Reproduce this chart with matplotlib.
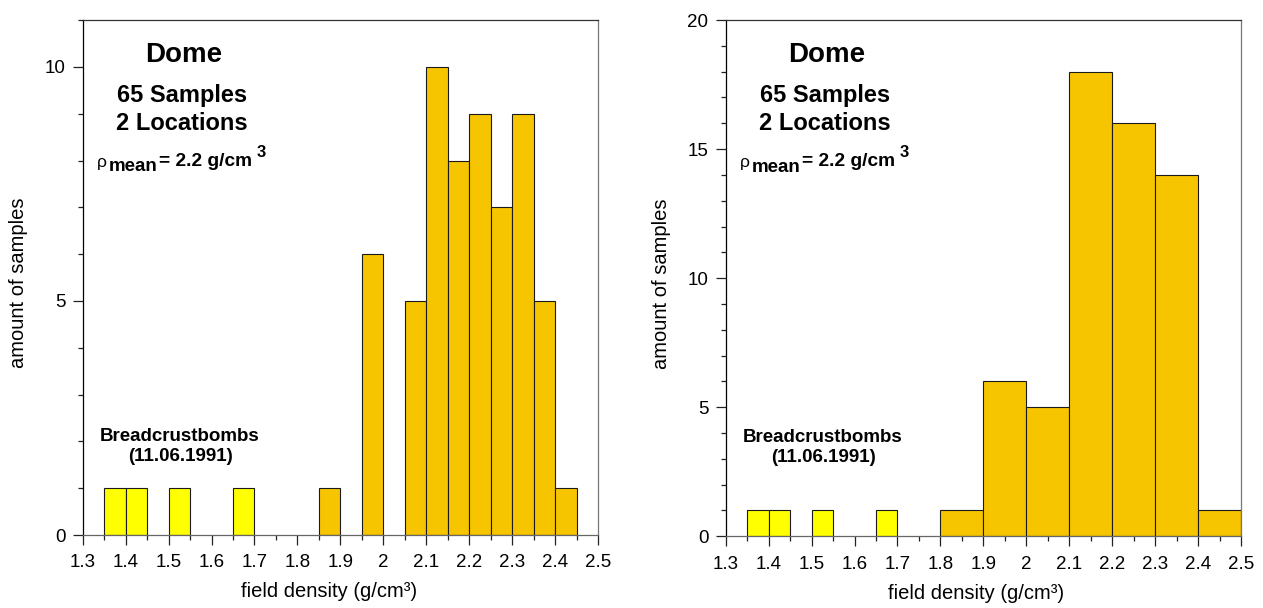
import numpy as np
import matplotlib.pyplot as plt
from matplotlib.ticker import MultipleLocator, FuncFormatter
from matplotlib.transforms import offset_copy

plt.rcParams['font.family'] = ['Liberation Sans', 'DejaVu Sans']

# breadcrust bombs (same in both panels), bin width 0.05
bomb_left = [1.35, 1.40, 1.50, 1.65]
bomb_count = [1, 1, 1, 1]

# dome samples, fine bins (0.05)
fine_left = [1.85, 1.95, 2.05, 2.10, 2.15, 2.20, 2.25, 2.30, 2.35, 2.40]
fine_count = [1, 6, 5, 10, 8, 9, 7, 9, 5, 1]

# dome samples, coarse bins (0.1)
coarse_left = [1.8, 1.9, 2.0, 2.1, 2.2, 2.3, 2.4]
coarse_count = [1, 6, 5, 18, 16, 14, 1]

x_ticks = np.round(np.arange(1.3, 2.51, 0.1), 2)

orange = '#F6C500'
yellow = '#FFFF00'
edge = '#1a1a1a'

fig = plt.figure(figsize=(12.63, 6.08), dpi=100)
ax1 = fig.add_axes([0.0655, 0.120, 0.408, 0.847])
ax2 = fig.add_axes([0.5746, 0.118, 0.408, 0.849])


def style(ax, ymax, ymajor, xlab_x):
    ax.set_xlim(1.3, 2.5)
    ax.set_ylim(0, ymax)
    ax.set_xticks(x_ticks)
    ax.xaxis.set_major_formatter(FuncFormatter(lambda v, p: '%g' % round(v, 2)))
    ax.xaxis.set_minor_locator(MultipleLocator(0.05))
    ax.yaxis.set_major_locator(MultipleLocator(ymajor))
    ax.yaxis.set_minor_locator(MultipleLocator(1))
    ax.tick_params(which='both', direction='out', labelsize=13.5, color='#222222')
    ax.tick_params(which='major', length=7.5, width=0.9)
    ax.tick_params(which='minor', length=3.8, width=0.9)
    ax.tick_params(axis='x', pad=6.5)
    ax.tick_params(axis='y', pad=5)
    ax.spines['left'].set_color('black')
    ax.spines['top'].set_color('#333333')
    ax.spines['right'].set_color('#777777')
    ax.spines['bottom'].set_color('#666666')
    for s in ax.spines.values():
        s.set_linewidth(0.9)
    ax.set_ylabel('amount of samples', fontsize=14.5)
    ax.set_xlabel('field density (g/cm³)', fontsize=14.5, va='top')
    ax.xaxis.set_label_coords(xlab_x, -0.092)
    ax.yaxis.set_label_coords(-0.107, 0.49)


def texts(ax):
    kw = dict(transform=ax.transAxes, ha='center', fontweight='bold')
    ax.text(0.195, 0.932, 'Dome', fontsize=20, va='center', **kw)
    ax.text(0.193, 0.853, '65 Samples', fontsize=17, va='center', **kw)
    ax.text(0.193, 0.800, '2 Locations', fontsize=17, va='center', **kw)
    ax.text(0.189, 0.192, 'Breadcrustbombs', fontsize=13.5, va='center', **kw)
    ax.text(0.189, 0.153, '(11.06.1991)', fontsize=13.5, va='center', **kw)
    # rho_mean line built from pieces, offsets in pixels from its start
    x0, y0 = 0.027, 0.717
    pieces = [('ρ', 0, -1, 12.5, 'normal'),
              ('mean', 12, -5.5, 13.5, 'bold'),
              ('= 2.2 g/cm', 62, 0, 13.8, 'bold'),
              ('3', 160, 9, 12, 'bold')]
    for s, dx, dy, size, w in pieces:
        tr = offset_copy(ax.transAxes, fig=fig, x=dx, y=dy, units='dots')
        ax.text(x0, y0, s, transform=tr, fontsize=size, fontweight=w,
                ha='left', va='baseline')


ax1.bar(bomb_left, bomb_count, width=0.05, align='edge', color=yellow,
        edgecolor=edge, linewidth=0.8)
ax1.bar(fine_left, fine_count, width=0.05, align='edge', color=orange,
        edgecolor=edge, linewidth=0.8)
style(ax1, 11, 5, 0.479)
texts(ax1)

ax2.bar(bomb_left, bomb_count, width=0.05, align='edge', color=yellow,
        edgecolor=edge, linewidth=0.8)
ax2.bar(coarse_left, coarse_count, width=0.1, align='edge', color=orange,
        edgecolor=edge, linewidth=0.8)
style(ax2, 20, 5, 0.486)
texts(ax2)

fig.savefig('out.png', dpi=100)
